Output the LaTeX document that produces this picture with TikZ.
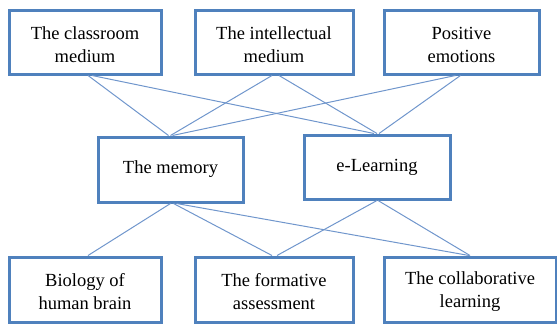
\documentclass[tikz,border=0pt]{standalone}
\usepackage{fontspec}
\setmainfont{Liberation Serif}
\definecolor{boxblue}{RGB}{79,129,189}
\definecolor{lineblue}{RGB}{112,150,204}
\begin{document}
\begin{tikzpicture}[x=1pt,y=-1pt,
  box/.style={draw=boxblue, line width=3pt, minimum height=64pt, inner sep=0pt,
    align=center, font=\fontsize{18.5}{23}\selectfont},
  txt/.style={align=center, font=\fontsize{18.5}{23}\selectfont, inner sep=0pt, yshift=-2.5pt},
  link/.style={draw=lineblue, line width=1pt}]
\useasboundingbox (0,0) rectangle (557,324);
% top row
\node[box, minimum width=152pt, label={[txt]center:{The classroom\\medium}}] (c1) at (85,42) {};
\node[box, minimum width=158pt, label={[txt]center:{The intellectual\\medium}}] (c2) at (274,42) {};
\node[box, minimum width=155pt, label={[txt]center:{Positive\\emotions}}] (c3) at (461.5,42) {};
% middle row
\node[box, minimum width=145pt, minimum height=65pt] (mem) at (170.5,169.5) {The memory};
\node[box, minimum width=146pt] (el) at (377,167) {e-Learning};
% bottom row
\node[box, minimum width=152pt, minimum height=65pt, label={[txt]center:{Biology of\\human brain}}] (b1) at (85,289.5) {};
\node[box, minimum width=158pt, minimum height=65pt, label={[txt]center:{The formative\\assessment}}] (b2) at (274,289.5) {};
\node[box, minimum width=172pt, minimum height=65pt, label={[txt]center:{The collaborative\\learning}}] (b3) at (470,289.5) {};
% connectors top to middle
\draw[link] ([xshift=3pt]c1.south) -- ([xshift=-2pt]mem.north);
\draw[link] ([xshift=7pt]c1.south) -- ([xshift=-3pt]el.north);
\draw[link] ([xshift=-2pt]c2.south) -- (mem.north);
\draw[link] ([xshift=5pt]c2.south) -- (el.north);
\draw[link] ([xshift=-6pt]c3.south) -- ([xshift=2pt]mem.north);
\draw[link] ([xshift=-1pt]c3.south) -- ([xshift=2pt]el.north);
% connectors middle to bottom
\draw[link] (mem.south) -- ([xshift=3pt]b1.north);
\draw[link] ([xshift=3pt]mem.south) -- ([xshift=-2pt]b2.north);
\draw[link] ([xshift=6pt]mem.south) -- ([xshift=-1pt]b3.north);
\draw[link] (el.south) -- ([xshift=3pt]b2.north);
\draw[link] ([xshift=1pt]el.south) -- (b3.north);
\end{tikzpicture}
\end{document}
